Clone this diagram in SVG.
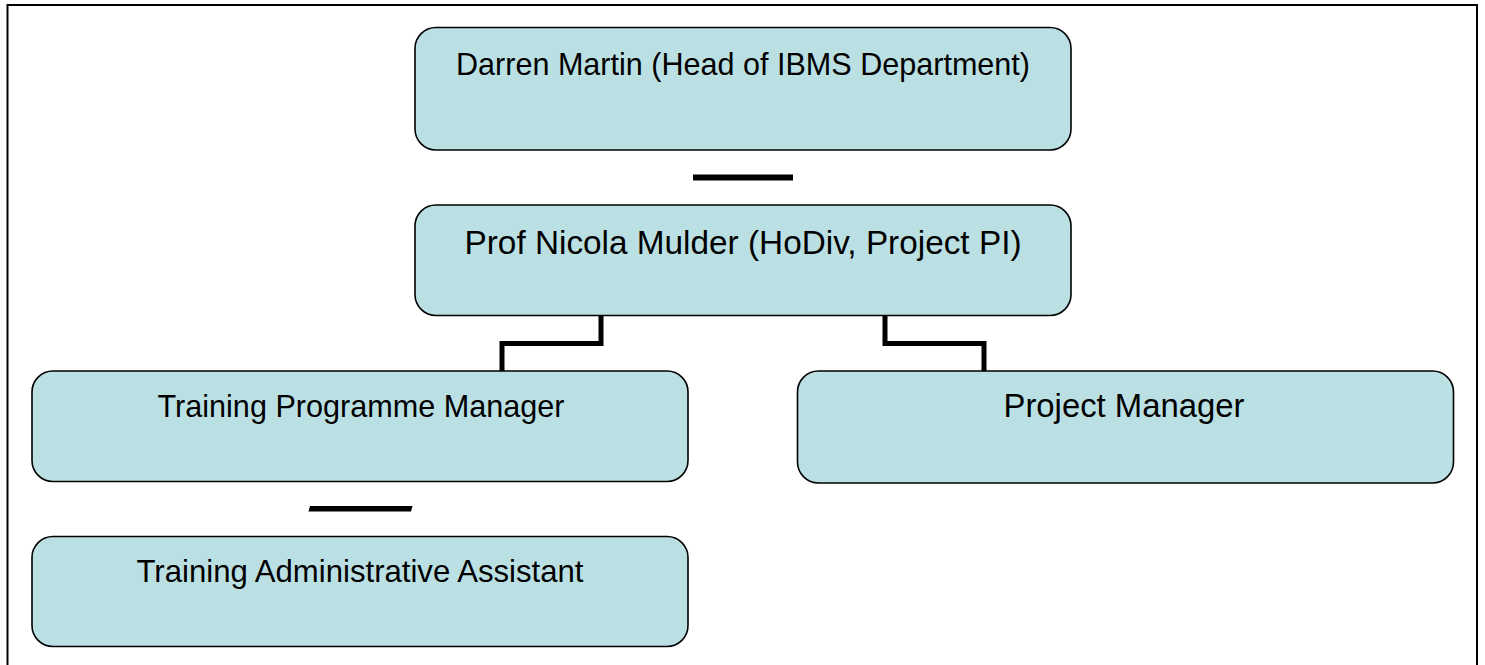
<svg xmlns="http://www.w3.org/2000/svg" width="1485" height="665" viewBox="0 0 1485 665">
<style>
.box{fill:#BBE0E3;stroke:#000;stroke-width:1.6}
.lbl{font-family:"Liberation Sans",Arial,sans-serif;fill:#000;text-anchor:middle}
.conn{fill:none;stroke:#000;stroke-width:5;stroke-linejoin:miter;stroke-linecap:butt}
</style>
<rect width="1485" height="665" fill="#fff"/>
<path d="M7.5,665 V5 H1477 V665" fill="none" stroke="#000" stroke-width="2"/>
<g id="connectors">
<rect x="693" y="174.5" width="100" height="6" fill="#000"/>
<path class="conn" d="M601,316 V343.5 H502 V371"/>
<path class="conn" d="M885,316 V343.5 H984 V371"/>
<polygon points="310,506 412.5,506 411,511.5 308.5,511.5" fill="#000"/>
</g>
<g id="darren">
<rect class="box" x="415" y="27.5" width="656" height="122.5" rx="21" ry="21"/>
<text class="lbl" x="743" y="74.5" font-size="31.5" textLength="574" lengthAdjust="spacingAndGlyphs">Darren Martin (Head of IBMS Department)</text>
</g>
<g id="nicola">
<rect class="box" x="415" y="205" width="656" height="110.5" rx="21" ry="21"/>
<text class="lbl" x="743" y="253.5" font-size="34" textLength="557" lengthAdjust="spacingAndGlyphs">Prof Nicola Mulder (HoDiv, Project PI)</text>
</g>
<g id="tpm">
<rect class="box" x="32" y="371" width="656" height="110.5" rx="21" ry="21"/>
<text class="lbl" x="361" y="417" font-size="31.5" textLength="407" lengthAdjust="spacingAndGlyphs">Training Programme Manager</text>
</g>
<g id="pm">
<rect class="box" x="797.5" y="371" width="656" height="112" rx="21" ry="21"/>
<text class="lbl" x="1124" y="417" font-size="33.5" textLength="241" lengthAdjust="spacingAndGlyphs">Project Manager</text>
</g>
<g id="taa">
<rect class="box" x="32" y="536.5" width="656" height="110" rx="21" ry="21"/>
<text class="lbl" x="360" y="582" font-size="31.5" textLength="447" lengthAdjust="spacingAndGlyphs">Training Administrative Assistant</text>
</g>
</svg>
